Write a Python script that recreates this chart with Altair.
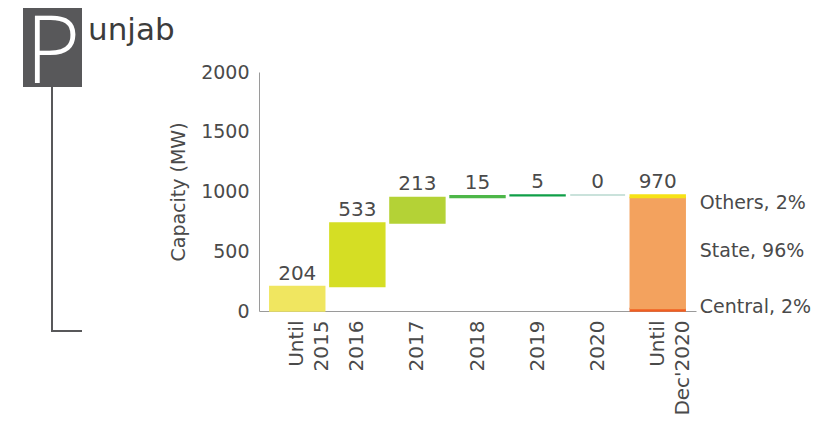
import altair as alt
import pandas as pd

# ---- data ----
categories = ["Until 2015", "2016", "2017", "2018", "2019", "2020", "Until Dec'2020"]
increments = [204, 533, 213, 15, 5, 0]          # yearly additions (MW)
total_label = 970
segments = ["Central", "State", "Others"]      # composition of the final bar
segment_values = [20, 930, 20]
segment_pct = ["2%", "96%", "2%"]

bar_keys = ["Until 2015", "2016", "2017", "2018", "2019", "2020", "Central", "State", "Others"]
bar_colors = ["#F0E660", "#D5DE24", "#B4D236", "#4DB748", "#109F48", "#B9D9CF",
              "#F15F22", "#F3A25E", "#F6E216"]

FONT = "DejaVu Sans"
TXT = "#4a4a4a"

# waterfall rows
rows = []
run = 0
for c, v in zip(categories[:-1], increments):
    rows.append({"cat": c, "key": c, "y0": run, "y1": run + v})
    run += v
base = 0
for s, v in zip(segments, segment_values):
    rows.append({"cat": categories[-1], "key": s, "y0": base, "y1": base + v})
    base += v
bars_df = pd.DataFrame(rows)

# value labels above bars
lab_rows = []
run = 0
for c, v in zip(categories[:-1], increments):
    run += v
    lab_rows.append({"cat": c, "top": run, "txt": str(v)})
lab_rows.append({"cat": categories[-1], "top": base, "txt": str(total_label)})
labels_df = pd.DataFrame(lab_rows)

# segment labels at right
seg_rows = []
b = 0
for s, v, p in zip(segments, segment_values, segment_pct):
    seg_rows.append({"cat": categories[-1], "lo": b, "hi": b + v, "mid": b + v / 2,
                     "txt": f"{s}, {p}", "key": s})
    b += v
seg_df = pd.DataFrame(seg_rows)

xscale = alt.Scale(domain=categories, paddingInner=0.086, paddingOuter=0.18)
yscale = alt.Scale(domain=[0, 2000])

x_enc = alt.X("cat:N", scale=xscale, sort=categories,
              axis=alt.Axis(title=None, labelAngle=-90, labelFont=FONT, labelFontSize=20,
                            labelColor=TXT, ticks=False, domainColor="#9a9a9a",
                            labelPadding=9, labelLineHeight=25,
                            labelExpr="indexof(datum.label, 'Until') == 0 ? split(datum.label, ' ') : datum.label"))

bars = alt.Chart(bars_df).mark_bar(strokeWidth=1.5).encode(
    x=x_enc,
    y=alt.Y("y0:Q", scale=yscale,
            axis=alt.Axis(title="Capacity (MW)", values=[0, 500, 1000, 1500, 2000], format="d",
                          grid=False, ticks=False, labelFont=FONT, labelFontSize=19,
                          labelColor=TXT, titleFont=FONT, titleFontSize=19, titleColor=TXT,
                          titleFontWeight="normal", titlePadding=12, labelPadding=10,
                          domainColor="#9a9a9a")),
    y2="y1:Q",
    color=alt.Color("key:N", scale=alt.Scale(domain=bar_keys, range=bar_colors), legend=None),
    stroke=alt.Stroke("key:N", scale=alt.Scale(domain=bar_keys, range=bar_colors), legend=None),
)

vals = alt.Chart(labels_df).mark_text(font=FONT, fontSize=20, color=TXT, baseline="bottom", dy=-3).encode(
    x=alt.X("cat:N", scale=xscale, sort=categories),
    y=alt.Y("top:Q", scale=yscale),
    text="txt:N",
)

seg_base = alt.Chart(seg_df)
others_t = seg_base.transform_filter("datum.key == 'Others'").mark_text(
    font=FONT, fontSize=19, color=TXT, align="left", baseline="top", dx=42, dy=-1).encode(
    x=alt.X("cat:N", scale=xscale, sort=categories), y=alt.Y("hi:Q", scale=yscale), text="txt:N")
state_t = seg_base.transform_filter("datum.key == 'State'").mark_text(
    font=FONT, fontSize=19, color=TXT, align="left", baseline="middle", dx=42, dy=-2).encode(
    x=alt.X("cat:N", scale=xscale, sort=categories), y=alt.Y("mid:Q", scale=yscale), text="txt:N")
central_t = seg_base.transform_filter("datum.key == 'Central'").mark_text(
    font=FONT, fontSize=19, color=TXT, align="left", baseline="middle", dx=42, dy=-4).encode(
    x=alt.X("cat:N", scale=xscale, sort=categories), y=alt.Y("lo:Q", scale=yscale), text="txt:N")

one = pd.DataFrame({"a": [0]})
box = alt.Chart(one).mark_rect(color="#58585A").encode(
    x=alt.value(-236), x2=alt.value(-177), y=alt.value(-64), y2=alt.value(15))
ptxt = alt.Chart(one).mark_text(text="P", font="Open Sans", fontWeight=300, fontSize=94,
                                color="white", baseline="alphabetic", align="center").encode(
    x=alt.value(-206), y=alt.value(11))
unjab = alt.Chart(one).mark_text(text="unjab", font=FONT, fontSize=31, fontWeight=500,
                                 color="#3c3c3c", baseline="alphabetic", align="left").encode(
    x=alt.value(-171), y=alt.value(-32))
vline = alt.Chart(one).mark_rule(color="#58585A", strokeWidth=2).encode(
    x=alt.value(-207), y=alt.value(15), y2=alt.value(260))
hline = alt.Chart(one).mark_rule(color="#58585A", strokeWidth=2).encode(
    x=alt.value(-208), x2=alt.value(-177), y=alt.value(259))

chart = alt.layer(bars, vals, others_t, state_t, central_t, box, ptxt, unjab, vline, hline).properties(
    width=437, height=239, autosize="none",
    padding={"left": 251, "top": 64, "right": 116, "bottom": 114},
).configure(background="white").configure_view(strokeWidth=0, stroke=None)

chart.save("out.html", embed_options={"renderer": "svg", "actions": False})
